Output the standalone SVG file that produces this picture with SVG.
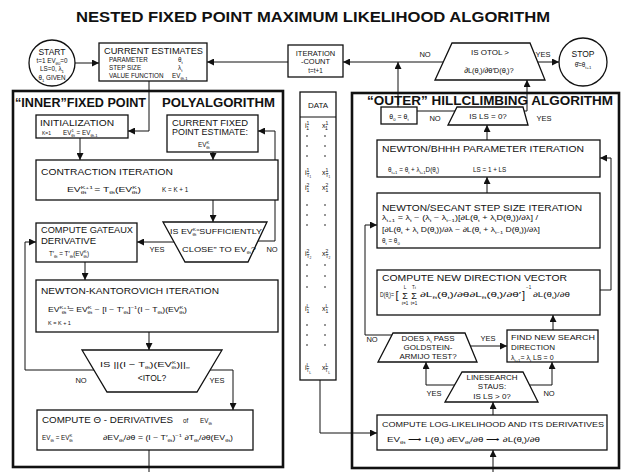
<svg xmlns="http://www.w3.org/2000/svg" width="624" height="472" viewBox="0 0 624 472">
<defs>
<marker id="ah" viewBox="0 0 10 10" refX="10" refY="5" markerWidth="7" markerHeight="7" markerUnits="userSpaceOnUse" orient="auto"><path d="M0,0 L10,5 L0,10 z" fill="#111"/></marker>
<style>
text{font-family:"Liberation Sans",Arial,sans-serif;fill:#111}
.box{fill:#fff;stroke:#111;stroke-width:1.3}
.frame{fill:none;stroke:#111;stroke-width:2.6}
.ln{fill:none;stroke:#111;stroke-width:1}
.ar{marker-end:url(#ah)}
.h{font-size:8.5px}
.f{font-size:6.3px}
.lb{font-size:7.5px}
.big{font-size:13px;font-weight:bold}
.m{text-anchor:middle}
.sb{font-size:4.2px;baseline-shift:-2px}
.sp{font-size:4.2px;baseline-shift:3.4px}
.d{font-size:7px}
.dsp{font-size:5px;baseline-shift:3.5px}
.dsb{font-size:5px;baseline-shift:-2px}
</style>
</defs>
<rect width="624" height="472" fill="#fff"/>
<text x="76" y="22" font-size="14" font-weight="bold" textLength="474" lengthAdjust="spacingAndGlyphs">NESTED FIXED POINT MAXIMUM LIKELIHOOD ALGORITHM</text>

<g id="inner-frame">
<rect x="13" y="91" width="270" height="376" class="frame"/>
<text x="15" y="107" class="big" textLength="131" lengthAdjust="spacingAndGlyphs">“INNER”FIXED POINT</text>
<text x="162" y="107" class="big" textLength="113" lengthAdjust="spacingAndGlyphs">POLYALGORITHM</text>
</g>
<g id="outer-frame">
<rect x="352" y="93" width="267" height="375" class="frame"/>
<text x="367" y="105" class="big" textLength="246" lengthAdjust="spacingAndGlyphs">“OUTER” HILLCLIMBING ALGORITHM</text>
</g>

<g id="connectors" class="ln">
<path d="M75,63 H99" class="ar"/>
<path d="M288,62 H207" class="ar"/>
<path d="M443,62 H343" class="ar"/>
<path d="M538,62 H559" class="ar"/>
<path d="M398,107 V62" class="ar"/>
<path d="M455,111 H417"/>
<path d="M524,111 H527 V80" class="ar"/>
<path d="M487,140 V125" class="ar"/>
<path d="M487,193 V177" class="ar"/>
<path d="M600,290 H611 V158 H600" class="ar"/>
<path d="M392,335 H365 V225 H377" class="ar"/>
<path d="M470,346 H507" class="ar"/>
<path d="M553,330 V315" class="ar"/>
<path d="M455,385 H426 V362" class="ar"/>
<path d="M530,385 H552 V362" class="ar"/>
<path d="M493,415 V402" class="ar"/>
<path d="M493,472 V450" class="ar"/>
<path d="M320,380 V433 H377" class="ar"/>
<path d="M149,81 V131 H128" class="ar"/>
<path d="M80,138 V160" class="ar"/>
<path d="M213,152 V160" class="ar"/>
<path d="M213,200 V222" class="ar"/>
<path d="M174,242 H137" class="ar"/>
<path d="M258,241 H275 V131 H258" class="ar"/>
<path d="M85,262 V280" class="ar"/>
<path d="M149,332 V350" class="ar"/>
<path d="M94,370 H25 V242 H36" class="ar"/>
<path d="M210,370 H233 V410" class="ar"/>
<path d="M149,450 V472"/>
<g stroke="none">
<text x="425" y="57" class="m lb">NO</text>
<text x="543" y="57" class="m lb">YES</text>
<text x="435" y="121" class="m lb">NO</text>
<text x="544" y="121" class="m lb">YES</text>
<text x="372" y="342" class="m lb">NO</text>
<text x="488" y="341" class="m lb">YES</text>
<text x="434" y="396" class="m lb">YES</text>
<text x="549" y="396" class="m lb">NO</text>
<text x="157" y="252" class="m lb">YES</text>
<text x="272" y="252" class="m lb">NO</text>
<text x="81" y="383" class="m lb">NO</text>
<text x="217" y="383" class="m lb">YES</text>
</g>
</g>

<g id="start">
<circle cx="52" cy="63" r="23" class="box"/>
<text x="52" y="55" class="m" font-size="8.5">START</text>
<text x="52" y="63" class="m f">t=1 EV<tspan class="sb">θ0</tspan>=0</text>
<text x="52" y="71" class="m f">LS=0, λ<tspan class="sb">1</tspan></text>
<text x="52" y="80" class="m f">θ<tspan class="sb">1</tspan> GIVEN</text>
</g>

<g id="current-estimates">
<rect x="99" y="43" width="108" height="38" class="box"/>
<text x="104" y="54" class="h" textLength="99" lengthAdjust="spacingAndGlyphs">CURRENT ESTIMATES</text>
<text x="109" y="62" class="f">PARAMETER</text><text x="178" y="62" class="f">θ<tspan class="sb">t</tspan></text>
<text x="109" y="70" class="f">STEP SIZE</text><text x="178" y="70" class="f">λ<tspan class="sb">t</tspan></text>
<text x="109" y="78" class="f">VALUE FUNCTION</text><text x="172" y="78" class="f">EV<tspan class="sb">θt-1</tspan></text>
</g>

<g id="iteration-count">
<rect x="288" y="45" width="55" height="32" class="box"/>
<text x="315.5" y="55.5" class="m" font-size="7.5">ITERATION</text>
<text x="315.5" y="64" class="m" font-size="7.5">-COUNT</text>
<text x="315.5" y="72.5" class="m f">t=t+1</text>
</g>

<g id="otol-test">
<polygon points="452,43 530,43 545,80 435,80" class="box"/>
<text x="490" y="55" class="m" font-size="8">IS  OTOL &gt;</text>
<text x="489" y="73" class="m" font-size="7.5">∂L(θ<tspan class="sb">t</tspan>)/∂θ′D(θ<tspan class="sb">t</tspan>)?</text>
</g>

<g id="stop">
<circle cx="583" cy="62" r="24" class="box"/>
<text x="583" y="57" class="m" font-size="8.5">STOP</text>
<text x="583" y="67" class="m f">θ̂=θ<tspan class="sb">t+1</tspan></text>
</g>

<g id="initialization">
<rect x="36" y="115" width="92" height="23" class="box"/>
<text x="40" y="126" class="h" textLength="74" lengthAdjust="spacingAndGlyphs">INITIALIZATION</text>
<text x="42" y="135" font-size="5">K=1</text>
<text x="63" y="135" class="f">EV<tspan class="sp">1</tspan><tspan class="sb" dx="-2.4">θt</tspan> = EV<tspan class="sb">θt-1</tspan></text>
</g>

<g id="current-fixed-point">
<rect x="167" y="115" width="91" height="37" class="box"/>
<text x="172" y="126" class="h" textLength="76" lengthAdjust="spacingAndGlyphs">CURRENT FIXED</text>
<text x="172" y="135" class="h" textLength="76" lengthAdjust="spacingAndGlyphs">POINT ESTIMATE:</text>
<text x="198" y="147" class="f">EV<tspan class="sp">K</tspan><tspan class="sb" dx="-3">θt</tspan></text>
</g>

<g id="contraction">
<rect x="36" y="160" width="242" height="40" class="box"/>
<text x="41" y="175" class="h" textLength="132" lengthAdjust="spacingAndGlyphs">CONTRACTION  ITERATION</text>
<text x="67" y="192" class="f" textLength="74" lengthAdjust="spacingAndGlyphs">EV<tspan class="sp">K+1</tspan><tspan class="sb" dx="-7.6">θt</tspan><tspan dx="3"> = T</tspan><tspan class="sb">θt</tspan>(EV<tspan class="sp">K</tspan><tspan class="sb" dx="-3">θt</tspan>)</text>
<text x="162" y="192" class="f">K = K + 1</text>
</g>

<g id="close-test">
<polygon points="163,222 267,222 248,262 185,262" class="box"/>
<text x="170" y="234" font-size="8" textLength="92" lengthAdjust="spacingAndGlyphs">IS EV<tspan class="sp">K</tspan><tspan class="sb" dx="-3">θt</tspan>“SUFFICIENTLY</text>
<text x="182" y="252" font-size="8" textLength="74" lengthAdjust="spacingAndGlyphs">CLOSE” TO EV<tspan class="sb">θt</tspan>?</text>
</g>

<g id="gateaux">
<rect x="36" y="223" width="101" height="39" class="box"/>
<text x="41" y="233" class="h" textLength="92" lengthAdjust="spacingAndGlyphs">COMPUTE GATEAUX</text>
<text x="41" y="244" class="h" textLength="55" lengthAdjust="spacingAndGlyphs">DERIVATIVE</text>
<text x="49" y="256" class="f">T′<tspan class="sb">θt</tspan> = T′<tspan class="sb">θt</tspan>(EV<tspan class="sp">K</tspan><tspan class="sb" dx="-3">θt</tspan>)</text>
</g>

<g id="newton-kantorovich">
<rect x="36" y="280" width="242" height="52" class="box"/>
<text x="41" y="294" class="h" textLength="178" lengthAdjust="spacingAndGlyphs">NEWTON-KANTOROVICH  ITERATION</text>
<text x="48" y="312" class="f" textLength="139" lengthAdjust="spacingAndGlyphs">EV<tspan class="sp">K+1</tspan><tspan class="sb" dx="-6">θt</tspan> = EV<tspan class="sp">K</tspan><tspan class="sb" dx="-3">θt</tspan> − [I − T′<tspan class="sb">θt</tspan>]<tspan class="sp">−1</tspan>(I − T<tspan class="sb">θt</tspan>)(EV<tspan class="sp">K</tspan><tspan class="sb" dx="-3">θt</tspan>)</text>
<text x="48" y="325" font-size="5.5">K = K + 1</text>
</g>

<g id="itol-test">
<polygon points="82,350 222,350 197,392 107,392" class="box"/>
<text x="100" y="367" font-size="8" textLength="90" lengthAdjust="spacingAndGlyphs">IS ||(I − T<tspan class="sb">θt</tspan>)(EV<tspan class="sp">K</tspan><tspan class="sb" dx="-3">θt</tspan>)||<tspan class="sb">∞</tspan></text>
<text x="152" y="381" class="m" font-size="8.5">&lt;ITOL?</text>
</g>

<g id="theta-derivatives">
<rect x="37" y="410" width="216" height="40" class="box"/>
<text x="42" y="423" class="h" textLength="131" lengthAdjust="spacingAndGlyphs">COMPUTE  Θ - DERIVATIVES</text>
<text x="183" y="423" class="f">of</text>
<text x="200" y="423" class="f">EV<tspan class="sb">θt</tspan></text>
<text x="42" y="440" class="f">EV<tspan class="sb">θt</tspan> = EV<tspan class="sp">K</tspan><tspan class="sb" dx="-3">θt</tspan></text>
<text x="103" y="440" class="f" textLength="130" lengthAdjust="spacingAndGlyphs">∂EV<tspan class="sb">θt</tspan>/∂θ = (I − T′<tspan class="sb">θt</tspan>)<tspan class="sp">−1</tspan> ∂T<tspan class="sb">θt</tspan>/∂θ(EV<tspan class="sb">θt</tspan>)</text>
</g>

<g id="data">
<rect x="300" y="92" width="36" height="288" class="box"/>
<line x1="300" y1="117" x2="336" y2="117" class="ln"/>
<text x="318" y="108" class="m" font-size="8">DATA</text>
<g class="d">
<text x="305" y="128">i<tspan class="dsp">1</tspan><tspan class="dsb" dx="-2.8">1</tspan></text>
<text x="322" y="128">x<tspan class="dsp">1</tspan><tspan class="dsb" dx="-2.8">1</tspan></text>
<text x="305" y="175">i<tspan class="dsp">1</tspan><tspan class="dsb" dx="-2.8">T₁</tspan></text>
<text x="322" y="175">x<tspan class="dsp">1</tspan><tspan class="dsb" dx="-2.8">T₁</tspan></text>
<text x="305" y="190">i<tspan class="dsp">2</tspan><tspan class="dsb" dx="-2.8">1</tspan></text>
<text x="322" y="190">x<tspan class="dsp">2</tspan><tspan class="dsb" dx="-2.8">1</tspan></text>
<text x="305" y="256">i<tspan class="dsp">2</tspan><tspan class="dsb" dx="-2.8">T₂</tspan></text>
<text x="322" y="256">x<tspan class="dsp">2</tspan><tspan class="dsb" dx="-2.8">T₂</tspan></text>
<text x="305" y="311">i<tspan class="dsp">L</tspan><tspan class="dsb" dx="-2.8">1</tspan></text>
<text x="322" y="311">x<tspan class="dsp">L</tspan><tspan class="dsb" dx="-2.8">1</tspan></text>
<text x="305" y="370">i<tspan class="dsp">L</tspan><tspan class="dsb" dx="-2.8">T</tspan><tspan font-size="3.5px" baseline-shift="-3.5px">L</tspan></text>
<text x="322" y="370">x<tspan class="dsp">L</tspan><tspan class="dsb" dx="-2.8">T</tspan><tspan font-size="3.5px" baseline-shift="-3.5px">L</tspan></text>
</g>
<g fill="#111">
<circle cx="307" cy="136" r="0.8"/><circle cx="325" cy="136" r="0.8"/>
<circle cx="307" cy="146" r="0.8"/><circle cx="325" cy="146" r="0.8"/>
<circle cx="307" cy="156" r="0.8"/><circle cx="325" cy="156" r="0.8"/>
<circle cx="307" cy="205" r="0.8"/><circle cx="325" cy="205" r="0.8"/>
<circle cx="307" cy="215" r="0.8"/><circle cx="325" cy="215" r="0.8"/>
<circle cx="307" cy="225" r="0.8"/><circle cx="325" cy="225" r="0.8"/>
<circle cx="307" cy="265" r="0.8"/><circle cx="325" cy="265" r="0.8"/>
<circle cx="307" cy="276" r="0.8"/><circle cx="325" cy="276" r="0.8"/>
<circle cx="307" cy="287" r="0.8"/><circle cx="325" cy="287" r="0.8"/>
<circle cx="307" cy="325" r="0.8"/><circle cx="325" cy="325" r="0.8"/>
<circle cx="307" cy="335" r="0.8"/><circle cx="325" cy="335" r="0.8"/>
<circle cx="307" cy="345" r="0.8"/><circle cx="325" cy="345" r="0.8"/>
</g>
</g>

<g id="theta0">
<rect x="381" y="107" width="36" height="17" class="box"/>
<text x="399" y="119" class="m" font-size="7">θ<tspan class="sb">0</tspan> = θ<tspan class="sb">t</tspan></text>
</g>

<g id="ls-zero-test">
<polygon points="457,107 523,107 528,125 448,125" class="box"/>
<text x="488" y="119" class="m" font-size="8">IS  LS = 0?</text>
</g>

<g id="bhhh">
<rect x="377" y="140" width="223" height="37" class="box"/>
<text x="382" y="152" class="h" textLength="202" lengthAdjust="spacingAndGlyphs">NEWTON/BHHH  PARAMETER  ITERATION</text>
<text x="388" y="172" class="f">θ<tspan class="sb">t+1</tspan> = θ<tspan class="sb">t</tspan> + λ<tspan class="sb">t+1</tspan>D(θ<tspan class="sb">t</tspan>)</text>
<text x="473" y="172" class="f">LS = 1 + LS</text>
</g>

<g id="secant">
<rect x="377" y="193" width="223" height="55" class="box"/>
<text x="382" y="211" class="h" textLength="200" lengthAdjust="spacingAndGlyphs">NEWTON/SECANT  STEP SIZE  ITERATION</text>
<text x="382" y="220" class="f" textLength="156" lengthAdjust="spacingAndGlyphs">λ<tspan class="sb">t+1</tspan> = λ<tspan class="sb">t</tspan> − (λ<tspan class="sb">t</tspan> − λ<tspan class="sb">t−1</tspan>)[∂L(θ<tspan class="sb">t</tspan> + λ<tspan class="sb">t</tspan>D(θ<tspan class="sb">t</tspan>))/∂λ] /</text>
<text x="382" y="232" class="f" textLength="158" lengthAdjust="spacingAndGlyphs">[∂L(θ<tspan class="sb">t</tspan> + λ<tspan class="sb">t</tspan> D(θ<tspan class="sb">t</tspan>))/∂λ − ∂L(θ<tspan class="sb">t</tspan> + λ<tspan class="sb">t−1</tspan> D(θ<tspan class="sb">t</tspan>))/∂λ]</text>
<text x="382" y="243" class="f">θ<tspan class="sb">t</tspan> = θ<tspan class="sb">0</tspan></text>
</g>

<g id="direction">
<rect x="377" y="270" width="223" height="45" class="box"/>
<text x="382" y="281" class="h" textLength="185" lengthAdjust="spacingAndGlyphs">COMPUTE  NEW  DIRECTION  VECTOR</text>
<text x="380" y="297" class="f" textLength="14" lengthAdjust="spacingAndGlyphs">D(θ<tspan class="sb">t</tspan>)=</text>
<text x="395.5" y="299" font-size="11">[</text>
<text x="405" y="299" class="m" font-size="9">Σ</text>
<text x="405" y="289" class="m" font-size="4.5">L</text>
<text x="405" y="305" class="m" font-size="4.5">ℓ=1</text>
<text x="414" y="299" class="m" font-size="9">Σ</text>
<text x="414" y="289" class="m" font-size="4.5">T<tspan font-size="3.5">ℓ</tspan></text>
<text x="414" y="305" class="m" font-size="4.5">t=1</text>
<text x="420" y="297" class="f" textLength="101" lengthAdjust="spacingAndGlyphs">∂L<tspan class="sb">ℓt</tspan>(θ<tspan class="sb">t</tspan>)/∂θ∂L<tspan class="sb">ℓt</tspan>(θ<tspan class="sb">t</tspan>)/∂θ′</text>
<text x="522" y="299" font-size="11">]</text>
<text x="526" y="289" font-size="4.5">−1</text>
<text x="533" y="297" class="f" textLength="37" lengthAdjust="spacingAndGlyphs">∂L(θ<tspan class="sb">t</tspan>)/∂θ</text>
</g>

<g id="goldstein-test">
<polygon points="393,333 465,333 477,362 378,362" class="box"/>
<text x="428" y="341" class="m" font-size="8">DOES λ<tspan class="sb">t</tspan> PASS</text>
<text x="428" y="349.5" class="m" font-size="8">GOLDSTEIN-</text>
<text x="428" y="358.5" class="m" font-size="8">ARMIJO TEST?</text>
</g>

<g id="find-direction">
<rect x="507" y="330" width="91" height="32" class="box"/>
<text x="511" y="340" font-size="8" textLength="84" lengthAdjust="spacingAndGlyphs">FIND NEW SEARCH</text>
<text x="511" y="350" font-size="8">DIRECTION</text>
<text x="511" y="360" font-size="7">λ<tspan class="sb">t+1</tspan>= λ<tspan class="sb">t</tspan>   LS = 0</text>
</g>

<g id="linesearch-test">
<polygon points="462,372 523,372 538,402 445,402" class="box"/>
<text x="492" y="380" class="m" font-size="8">LINESEARCH</text>
<text x="492" y="389" class="m" font-size="8">STAUS:</text>
<text x="492" y="399" class="m" font-size="8">IS  LS &gt; 0?</text>
</g>

<g id="log-likelihood">
<rect x="377" y="415" width="230" height="35" class="box"/>
<text x="382" y="427" font-size="8" textLength="222" lengthAdjust="spacingAndGlyphs">COMPUTE  LOG-LIKELIHOOD  AND ITS DERIVATIVES</text>
<text x="387" y="442" class="f" textLength="153" lengthAdjust="spacingAndGlyphs">EV<tspan class="sb">θt</tspan> ⟶ L(θ<tspan class="sb">t</tspan>)  ∂EV<tspan class="sb">θt</tspan>/∂θ ⟶ ∂L(θ<tspan class="sb">t</tspan>)/∂θ</text>
</g>
</svg>
